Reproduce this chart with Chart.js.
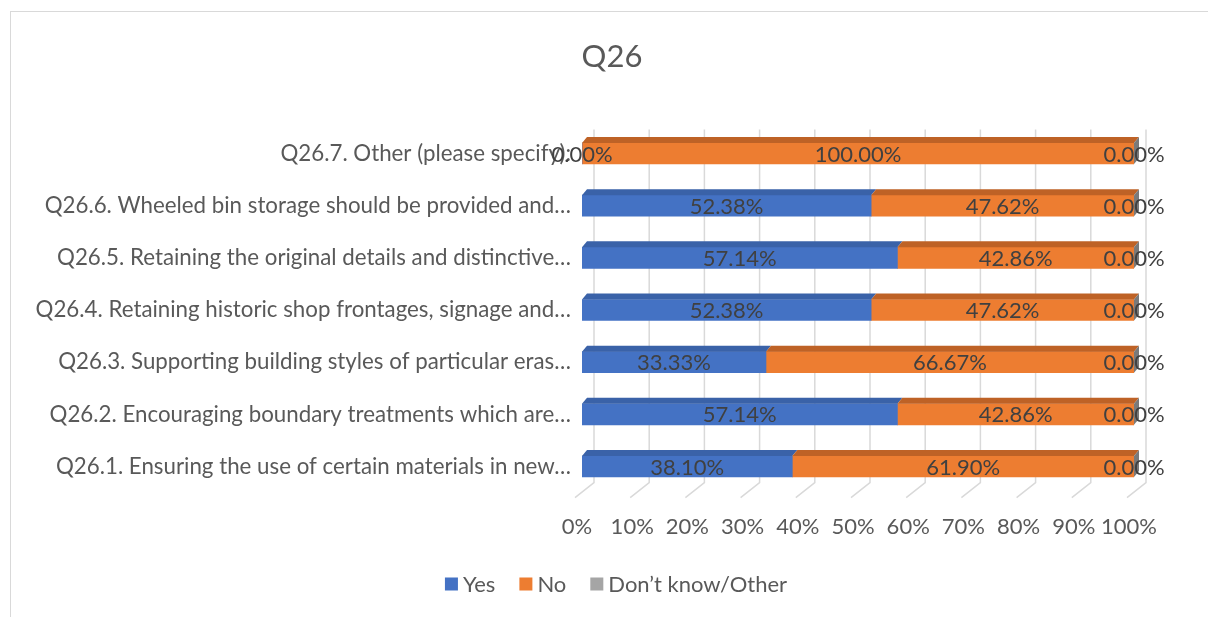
<!DOCTYPE html>
<html>
<head>
<meta charset="utf-8">
<script src="https://cdn.jsdelivr.net/npm/chart.js@4.4.1/dist/chart.umd.min.js"></script>
<style>
  html, body { margin: 0; padding: 0; background: #fff; width: 1208px; height: 617px; overflow: hidden; }
  #frame { position: absolute; left: 10px; top: 11px; width: 1300px; height: 700px; border-left: 1.5px solid #d9d9d9; border-top: 1.5px solid #d9d9d9; }
  #wrap { position: absolute; left: 11px; top: 0; width: 1202px; height: 617px; }
</style>
</head>
<body>
<div id="frame"></div>
<div id="wrap"><canvas id="c"></canvas></div>
<script>
const chartTitle = "Q26";
const categories = [
  "Q26.1. Ensuring the use of certain materials in new…",
  "Q26.2. Encouraging boundary treatments which are…",
  "Q26.3. Supporting building styles of particular eras…",
  "Q26.4. Retaining historic shop frontages, signage and…",
  "Q26.5. Retaining the original details and distinctive…",
  "Q26.6. Wheeled bin storage should be provided and…",
  "Q26.7. Other (please specify):"
];
const seriesNames = ["Yes", "No", "Don’t know/Other"];
const yesValues = [38.10, 57.14, 33.33, 52.38, 57.14, 52.38, 0.00];
const noValues = [61.90, 42.86, 66.67, 47.62, 42.86, 47.62, 100.00];
const dkValues = [0.00, 0.00, 0.00, 0.00, 0.00, 0.00, 0.00];
const tickValues = [0, 10, 20, 30, 40, 50, 60, 70, 80, 90, 100];

const FONT = "Lato";
const TEXT = '#595959';
const faceColors = ["#4472C4", "#ED7D31", "#A5A5A5"];
const topColors = ["#3A62A8", "#BE6226", "#8A8A8A"];
const sideColor = "#7A7A7A";
const DX = 5, DY = 6;

const grid3dPlugin = {
  id: 'grid3d',
  beforeDatasetsDraw(chart) {
    const xs = chart.scales.x, ca = chart.chartArea, ctx = chart.ctx;
    ctx.save();
    ctx.strokeStyle = '#d9d9d9';
    ctx.lineWidth = 1.5;
    xs.ticks.forEach(t => {
      const px = xs.getPixelForValue(t.value);
      const bx = px + 12;
      ctx.beginPath();
      ctx.moveTo(bx, ca.top + 2);
      ctx.lineTo(bx, ca.bottom - 10);
      ctx.lineTo(px - 7, ca.bottom + 5);
      ctx.stroke();
    });
    ctx.restore();
  },
  afterDatasetsDraw(chart) {
    const ctx = chart.ctx;
    ctx.save();
    const n = chart.data.datasets.length;
    for (let d = 0; d < n; d++) {
      const meta = chart.getDatasetMeta(d);
      meta.data.forEach(el => {
        const p = el.getProps(['x', 'y', 'base', 'height'], true);
        const l = Math.min(p.x, p.base), r = Math.max(p.x, p.base);
        const top = p.y - p.height / 2;
        if (r - l > 0.1) {
          ctx.fillStyle = topColors[d];
          ctx.beginPath();
          ctx.moveTo(l, top);
          ctx.lineTo(r, top);
          ctx.lineTo(r + DX, top - DY);
          ctx.lineTo(l + DX, top - DY);
          ctx.closePath();
          ctx.fill();
        }
      });
    }
    const lastMeta = chart.getDatasetMeta(n - 1);
    lastMeta.data.forEach(el => {
      const p = el.getProps(['x', 'y', 'base', 'height'], true);
      const r = Math.max(p.x, p.base);
      const top = p.y - p.height / 2, bot = p.y + p.height / 2;
      ctx.fillStyle = sideColor;
      ctx.beginPath();
      ctx.moveTo(r, top);
      ctx.lineTo(r + DX, top - DY);
      ctx.lineTo(r + DX, bot - DY);
      ctx.lineTo(r, bot);
      ctx.closePath();
      ctx.fill();
    });
    ctx.fillStyle = '#404040';
    ctx.font = "22px " + FONT;
    ctx.textAlign = 'center';
    ctx.textBaseline = 'middle';
    for (let d = 0; d < n; d++) {
      const meta = chart.getDatasetMeta(d);
      const vals = chart.data.datasets[d].data;
      meta.data.forEach((el, i) => {
        const p = el.getProps(['x', 'y', 'base'], true);
        ctx.fillText(vals[i].toFixed(2) + '%', (p.x + p.base) / 2, p.y + 1);
      });
    }
    ctx.restore();
  }
};

// Title and legend centred on the outer chart frame (as in the reference)
const frameTextPlugin = {
  id: 'frameText',
  afterDraw(chart) {
    const ctx = chart.ctx;
    ctx.save();
    ctx.fillStyle = TEXT;
    ctx.textBaseline = 'middle';
    ctx.textAlign = 'center';
    ctx.font = "31px " + FONT;
    ctx.fillText(chartTitle, 601, 57);

    ctx.font = "22px " + FONT;
    ctx.textAlign = 'left';
    const box = 13, gapText = 5, gapItem = 24;
    const ds = chart.data.datasets;
    const widths = ds.map(d => box + gapText + ctx.measureText(d.label).width);
    const total = widths.reduce((a, b) => a + b, 0) + gapItem * (ds.length - 1);
    let x = 605 - total / 2;
    const cy = 584;
    ds.forEach((d, i) => {
      ctx.fillStyle = d.backgroundColor;
      ctx.fillRect(x, cy - box / 2, box, box);
      ctx.fillStyle = TEXT;
      ctx.fillText(d.label, x + box + gapText, cy + 1);
      x += widths[i] + gapItem;
    });
    ctx.restore();
  }
};

new Chart(document.getElementById('c'), {
  type: 'bar',
  data: {
    labels: categories,
    datasets: [
      { label: seriesNames[0], data: yesValues, backgroundColor: faceColors[0], borderWidth: 0 },
      { label: seriesNames[1], data: noValues, backgroundColor: faceColors[1], borderWidth: 0 },
      { label: seriesNames[2], data: dkValues, backgroundColor: faceColors[2], borderWidth: 0 }
    ]
  },
  options: {
    indexAxis: 'y',
    responsive: true,
    maintainAspectRatio: false,
    animation: false,
    events: [],
    barThickness: 21,
    layout: { padding: { left: 0, right: 79, top: 127.4, bottom: 74.4 } },
    scales: {
      x: {
        stacked: true,
        min: 0, max: 100,
        afterBuildTicks(scale) { scale.ticks = tickValues.map(v => ({ value: v })); },
        grid: { display: false, drawTicks: false },
        border: { display: false },
        ticks: {
          padding: 21,
          labelOffset: -5,
          color: TEXT,
          font: { family: FONT, size: 22 },
          maxRotation: 0,
          autoSkip: false,
          callback: v => v + '%'
        },
        afterFit(scale) { scale.height = 50; }
      },
      y: {
        stacked: true,
        reverse: true,
        grid: { display: false, drawTicks: false },
        border: { display: false },
        ticks: {
          padding: 11,
          color: TEXT,
          font: { family: FONT, size: 22.3 },
          autoSkip: false
        },
        afterFit(scale) { scale.width = 571; }
      }
    },
    plugins: {
      title: { display: false },
      legend: { display: false },
      tooltip: { enabled: false }
    }
  },
  plugins: [grid3dPlugin, frameTextPlugin]
});
</script>
</body>
</html>
